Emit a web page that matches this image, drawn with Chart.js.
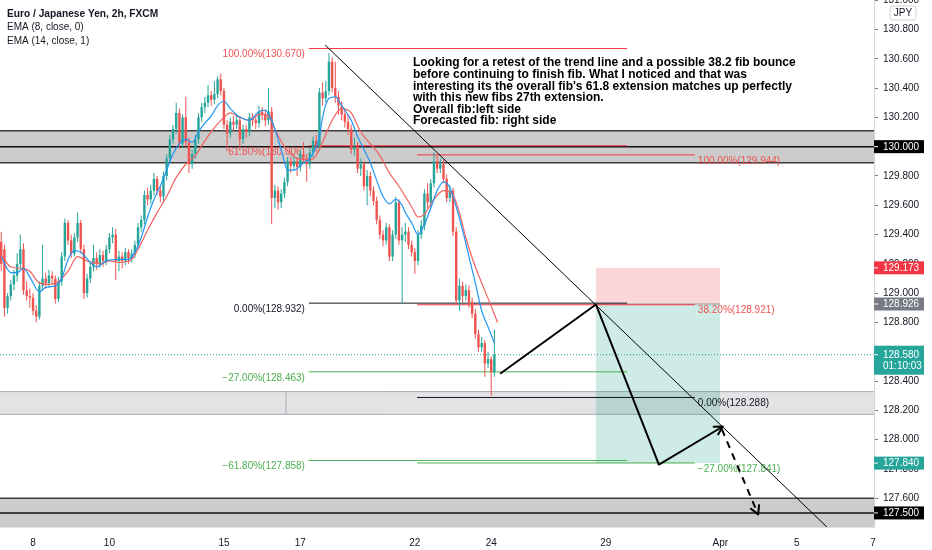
<!DOCTYPE html>
<html>
<head>
<meta charset="utf-8">
<script src="https://cdn.jsdelivr.net/npm/chart.js@4.4.0/dist/chart.umd.min.js"></script>
<style>
  html, body { margin: 0; padding: 0; background: #fff; }
  #wrap { width: 932px; height: 550px; }
</style>
</head>
<body>
<div id="wrap"><canvas id="myChart" width="932" height="550"></canvas></div>
<script>
// EUR/JPY 2h candles, one entry per bar (bar 0 = Fri 5 Mar 04:00)
const opens = [
  129.35,129.30,128.90,128.98,129.06,129.12,129.20,129.30,129.02,128.98,
  128.97,128.88,128.84,129.05,129.10,129.07,129.12,129.10,128.96,129.08,
  129.25,129.48,129.36,129.27,129.38,129.48,129.30,129.00,129.10,129.18,
  129.24,129.20,129.26,129.22,129.30,129.38,129.40,129.22,129.25,129.22,
  129.28,129.24,129.27,129.33,129.45,129.50,129.67,129.64,129.70,129.78,
  129.70,129.66,129.80,129.92,130.05,130.12,130.23,130.02,130.20,130.03,
  129.88,129.95,130.05,130.20,130.27,130.30,130.35,130.32,130.36,130.46,
  130.38,130.15,130.09,130.17,130.15,130.18,130.05,130.12,130.10,130.20,
  130.18,130.16,130.24,130.22,130.18,130.24,129.65,129.70,129.62,129.68,
  129.76,129.90,129.87,129.90,129.86,129.95,129.92,129.88,129.96,130.04,
  130.00,130.37,130.33,130.38,130.58,130.40,130.34,130.28,130.22,130.17,
  130.12,129.98,130.00,129.85,129.88,129.73,129.80,129.70,129.63,129.50,
  129.40,129.36,129.45,129.25,129.40,129.62,129.36,129.40,129.42,129.33,
  129.28,129.22,129.40,129.46,129.68,129.62,129.75,129.90,129.85,129.88,
  129.78,129.65,129.70,129.42,128.95,129.05,128.98,129.02,128.94,128.86,
  128.72,128.63,128.66,128.52,128.55,128.46
];
const highs = [
  129.42,129.33,129.00,129.09,129.16,129.27,129.40,129.34,129.08,129.03,
  129.00,128.92,129.08,129.33,129.14,129.16,129.15,129.12,129.11,129.28,
  129.51,129.50,129.40,129.41,129.55,129.50,129.33,129.13,129.21,129.33,
  129.28,129.30,129.29,129.33,129.41,129.45,129.44,129.29,129.28,129.31,
  129.30,129.30,129.36,129.48,129.53,129.70,129.72,129.74,129.82,129.80,
  129.73,129.83,129.95,130.08,130.15,130.30,130.26,130.22,130.34,130.06,
  129.98,130.08,130.23,130.30,130.34,130.42,130.38,130.45,130.48,130.50,
  130.40,130.18,130.20,130.21,130.22,130.21,130.15,130.15,130.23,130.23,
  130.21,130.28,130.27,130.25,130.40,130.27,129.74,129.73,129.71,129.79,
  129.93,129.93,129.94,129.93,129.98,130.03,129.95,129.99,130.07,130.08,
  130.40,130.44,130.45,130.64,130.61,130.58,130.38,130.31,130.26,130.22,
  130.15,130.06,130.03,129.92,129.90,129.84,129.83,129.73,129.66,129.53,
  129.43,129.48,129.47,129.43,129.66,129.64,129.45,129.48,129.45,129.36,
  129.31,129.43,129.50,129.71,129.75,129.78,129.96,129.94,129.92,129.91,
  129.81,129.74,129.72,129.45,129.10,129.08,129.06,129.05,128.97,128.89,
  128.75,128.70,128.68,128.60,128.57,128.75
];
const lows = [
  129.15,128.84,128.86,128.95,129.02,129.08,129.17,128.99,128.95,128.90,
  128.85,128.80,128.82,129.02,129.03,129.04,129.06,128.93,128.94,129.05,
  129.22,129.33,129.24,129.25,129.35,129.27,128.96,128.97,129.07,129.15,
  129.16,129.17,129.18,129.19,129.27,129.34,129.09,129.15,129.17,129.19,
  129.20,129.21,129.24,129.30,129.42,129.47,129.60,129.61,129.67,129.67,
  129.62,129.63,129.77,129.89,130.02,130.09,129.99,129.99,130.00,129.82,
  129.85,129.92,130.02,130.17,130.23,130.27,130.28,130.29,130.33,130.35,
  130.12,129.97,130.06,130.11,130.12,129.97,130.02,130.06,130.07,130.14,
  130.12,130.13,130.18,130.14,130.15,129.47,129.58,129.57,129.58,129.65,
  129.73,129.82,129.84,129.80,129.83,129.89,129.76,129.85,129.93,129.96,
  129.97,130.28,130.30,130.35,130.37,130.30,130.22,130.18,130.13,130.08,
  129.95,129.94,129.82,129.80,129.70,129.60,129.66,129.60,129.47,129.37,
  129.32,129.33,129.22,129.22,129.37,129.33,128.93,129.35,129.30,129.25,
  129.13,129.19,129.37,129.43,129.58,129.59,129.72,129.82,129.82,129.75,
  129.62,129.62,129.39,128.92,128.88,128.94,128.95,128.90,128.83,128.69,
  128.60,128.60,128.43,128.49,128.30,128.43
];
const closes = [
  129.20,128.90,128.98,129.06,129.12,129.20,129.30,129.02,128.98,128.97,
  128.88,128.84,129.05,129.10,129.07,129.12,129.10,128.96,129.08,129.25,
  129.48,129.36,129.27,129.38,129.48,129.30,129.00,129.10,129.18,129.24,
  129.20,129.26,129.22,129.30,129.38,129.40,129.22,129.25,129.22,129.28,
  129.24,129.27,129.33,129.45,129.50,129.67,129.64,129.70,129.78,129.70,
  129.66,129.80,129.92,130.05,130.12,130.23,130.02,130.20,130.03,129.88,
  129.95,130.05,130.20,130.27,130.30,130.35,130.32,130.36,130.46,130.38,
  130.15,130.09,130.17,130.15,130.18,130.05,130.12,130.10,130.20,130.18,
  130.16,130.24,130.22,130.18,130.24,129.65,129.70,129.62,129.68,129.76,
  129.90,129.87,129.90,129.86,129.95,129.92,129.88,129.96,130.04,130.00,
  130.37,130.33,130.38,130.58,130.40,130.34,130.28,130.22,130.17,130.12,
  129.98,130.00,129.85,129.88,129.73,129.80,129.70,129.63,129.50,129.40,
  129.36,129.45,129.25,129.40,129.62,129.36,129.40,129.42,129.33,129.28,
  129.22,129.40,129.46,129.68,129.62,129.75,129.90,129.85,129.88,129.78,
  129.65,129.70,129.42,128.95,129.05,128.98,129.02,128.94,128.86,128.72,
  128.63,128.66,128.52,128.55,128.46,128.58
];

// EMA lines (bar index, price)
const emaFastBars = [0,3,5,7,9,12,14,17,19,21,23,25,28,30,33,37,40,42,44,46,48,50,52,54,56,58,60,62,64,66,68,70,72,75,78,81,83,85,88,90,92,95,97,100,101,103,105,107,110,112,114,116,118,120,122,124,126,127,129,131,133,135,137,139,141,143,145,147,149,151,153,155];
const emaFastVals = [129.25,129.14,129.14,129.17,129.11,129.01,129.04,129.05,129.10,129.23,129.29,129.28,129.21,129.18,129.22,129.23,129.23,129.28,129.38,129.52,129.64,129.73,129.84,129.95,130.02,130.05,130.03,130.10,130.16,130.21,130.28,130.31,130.26,130.20,130.18,130.24,130.25,130.18,129.98,129.84,129.84,129.89,129.92,130.07,130.20,130.33,130.34,130.28,130.18,130.07,129.98,129.89,129.77,129.66,129.61,129.64,129.60,129.55,129.48,129.40,129.47,129.58,129.70,129.76,129.72,129.59,129.43,129.25,129.07,128.88,128.77,128.66];
const emaSlowBars = [0,3,6,9,12,15,18,21,24,27,31,34,37,41,43,46,49,52,55,58,61,64,67,70,72,75,78,81,84,86,89,93,97,99,101,104,107,110,113,116,119,122,125,127,129,131,133,136,139,142,144,146,149,151,154,156];
const emaSlowVals = [129.26,129.18,129.17,129.15,129.07,129.06,129.08,129.15,129.25,129.22,129.20,129.22,129.21,129.23,129.30,129.43,129.55,129.66,129.79,129.88,129.94,130.04,130.13,130.20,130.23,130.20,130.18,130.22,130.21,130.12,130.00,129.92,129.91,129.94,130.03,130.18,130.26,130.23,130.10,130.02,129.94,129.82,129.73,129.66,129.59,129.52,129.54,129.64,129.70,129.67,129.55,129.38,129.18,129.07,128.91,128.80];

// axis ticks
const xTickBars = [10, 34, 70, 94, 130, 154, 190, 226, 250, 274];
const xTickLabels = ['8', '10', '15', '17', '22', '24', '29', 'Apr', '5', '7'];
const priceTicks = [127.6,127.8,128.0,128.2,128.4,128.6,128.8,129.0,129.2,129.4,129.6,129.8,130.0,130.2,130.4,130.6,130.8,131.0];

// drawings
const zoneTops = [130.109, 128.328, 127.600];
const zoneBottoms = [129.891, 128.173, 127.300];
const levelLines = [130.000, 127.500];
const leftFibLabels = ['100.00%(130.670)', '61.80%(130.006)', '0.00%(128.932)', '\u221227.00%(128.463)', '\u221261.80%(127.858)'];
const leftFibPrices = [130.670, 130.006, 128.932, 128.463, 127.858];
const leftFibBars = [96.7, 196.7];
const rightFibLabels = ['100.00%(129.944)', '38.20%(128.921)', '0.00%(128.288)', '\u221227.00%(127.841)'];
const rightFibPrices = [129.944, 128.921, 128.288, 127.841];
const rightFibBars = [130.7, 218.0];
const positionBars = [186.9, 225.9];
const positionPrices = [129.173, 128.926, 127.840];
const trendBars = [101.8, 259.5];
const trendPrices = [130.694, 127.404];
const pathBars = [156.8, 186.9, 206.7, 226.8];
const pathPrices = [128.45, 128.923, 127.83, 128.09];
const dashBars = [226.5, 237.9];
const dashPrices = [128.07, 127.49];
const noteLines = [
  'Looking for a retest of the trend line and a possible 38.2 fib bounce',
  'before continuing to finish fib. What I noticed and that was',
  "interesting its the overall fib's 61.8 extension matches up perfectly",
  'with this new fibs 27th extension.',
  'Overall fib:left side',
  'Forecasted fib: right side'
];
const noteBar = 129.4;
const notePrice = 130.571;
const badgePrices = [130.000, 129.173, 128.926, 128.580, 127.840, 127.500];
const countdown = '01:10:03';

const upColor = '#26a69a';
const downColor = '#ef5350';
const fibRed = '#f23645';
const fibGreen = '#4caf50';
const ink = '#131722';
const FONT = '"Liberation Sans", Arial, sans-serif';

Chart.defaults.font.family = FONT;
Chart.defaults.font.size = 10;
Chart.defaults.color = ink;

function arrowHead(ctx, x0, y0, x1, y1, len) {
  const ang = Math.atan2(y1 - y0, x1 - x0);
  ctx.beginPath();
  ctx.moveTo(x1 - len * Math.cos(ang - 0.5), y1 - len * Math.sin(ang - 0.5));
  ctx.lineTo(x1, y1);
  ctx.lineTo(x1 - len * Math.cos(ang + 0.5), y1 - len * Math.sin(ang + 0.5));
  ctx.stroke();
}

const drawings = {
  id: 'drawings',
  beforeDatasetsDraw(chart) {
    const { ctx, chartArea: a, scales: { x, y } } = chart;
    const X = v => x.getPixelForValue(v);
    const Y = v => y.getPixelForValue(v);
    ctx.save();
    ctx.beginPath();
    ctx.rect(a.left, a.top, a.right - a.left, a.bottom - a.top);
    ctx.clip();

    // grey zones
    const zoneFill = ['#cccccc', '#e3e3e5', '#cccccc'];
    const zoneEdge = ['#3c3c3c', '#a9abb2', '#3c3c3c'];
    zoneTops.forEach((top, i) => {
      const y1 = Y(top), y2 = Y(zoneBottoms[i]);
      ctx.fillStyle = zoneFill[i];
      ctx.fillRect(a.left, y1, a.right - a.left, y2 - y1);
      ctx.strokeStyle = zoneEdge[i];
      ctx.lineWidth = i == 1 ? 1 : 1.5;
      ctx.beginPath();
      ctx.moveTo(a.left, y1); ctx.lineTo(a.right, y1);
      ctx.moveTo(a.left, y2); ctx.lineTo(a.right, y2);
      ctx.stroke();
    });
    ctx.strokeStyle = '#a9abb2';
    ctx.lineWidth = 1;
    ctx.beginPath();
    ctx.moveTo(X(89.5), Y(zoneTops[1]));
    ctx.lineTo(X(89.5), Y(zoneBottoms[1]));
    ctx.stroke();
    ctx.strokeStyle = '#111';
    ctx.lineWidth = 1.5;
    levelLines.forEach(p => {
      ctx.beginPath();
      ctx.moveTo(a.left, Y(p)); ctx.lineTo(a.right, Y(p));
      ctx.stroke();
    });

    // short position tool
    const px1 = X(positionBars[0]), px2 = X(positionBars[1]);
    ctx.fillStyle = 'rgba(242,54,69,0.2)';
    ctx.fillRect(px1, Y(positionPrices[0]), px2 - px1, Y(positionPrices[1]) - Y(positionPrices[0]));
    ctx.fillStyle = 'rgba(8,153,129,0.2)';
    ctx.fillRect(px1, Y(positionPrices[1]), px2 - px1, Y(positionPrices[2]) - Y(positionPrices[1]));
    ctx.strokeStyle = '#9598a1';
    ctx.lineWidth = 1;
    ctx.beginPath();
    ctx.moveTo(px1, Y(positionPrices[1])); ctx.lineTo(px2, Y(positionPrices[1]));
    ctx.stroke();

    // current price dotted line
    ctx.strokeStyle = upColor;
    ctx.setLineDash([1, 2]);
    ctx.beginPath();
    ctx.moveTo(a.left, Y(closes[closes.length - 1]));
    ctx.lineTo(a.right, Y(closes[closes.length - 1]));
    ctx.stroke();
    ctx.setLineDash([]);

    // fib levels
    ctx.font = '10px ' + FONT;
    ctx.textBaseline = 'top';
    const leftColors = [fibRed, fibRed, ink, fibGreen, fibGreen];
    leftFibPrices.forEach((p, i) => {
      const yy = Y(p);
      ctx.strokeStyle = leftColors[i];
      ctx.beginPath();
      ctx.moveTo(X(leftFibBars[0]), yy); ctx.lineTo(X(leftFibBars[1]), yy);
      ctx.stroke();
      ctx.fillStyle = leftColors[i] == fibRed ? '#ef5350' : leftColors[i];
      ctx.textAlign = 'right';
      ctx.fillText(leftFibLabels[i], X(leftFibBars[0]) - 4, yy + 1);
    });
    const rightColors = [fibRed, fibRed, ink, fibGreen];
    rightFibPrices.forEach((p, i) => {
      const yy = Y(p);
      ctx.strokeStyle = rightColors[i];
      ctx.beginPath();
      ctx.moveTo(X(rightFibBars[0]), yy); ctx.lineTo(X(rightFibBars[1]), yy);
      ctx.stroke();
      ctx.fillStyle = rightColors[i] == fibRed ? '#ef5350' : rightColors[i];
      ctx.textAlign = 'left';
      ctx.fillText(rightFibLabels[i], X(rightFibBars[1]) + 3, yy + 1);
    });
    ctx.restore();
  },
  afterDatasetsDraw(chart) {
    const { ctx, chartArea: a, scales: { x, y } } = chart;
    const X = v => x.getPixelForValue(v);
    const Y = v => y.getPixelForValue(v);
    ctx.save();
    ctx.beginPath();
    ctx.rect(a.left, a.top, a.right - a.left, a.bottom - a.top);
    ctx.clip();

    // trend line
    ctx.strokeStyle = '#000';
    ctx.lineWidth = 1;
    ctx.beginPath();
    ctx.moveTo(X(trendBars[0]), Y(trendPrices[0]));
    ctx.lineTo(X(trendBars[1]), Y(trendPrices[1]));
    ctx.stroke();

    // forecast path
    ctx.lineWidth = 2;
    ctx.lineJoin = 'round';
    ctx.beginPath();
    pathBars.forEach((b, i) => {
      if (i == 0) ctx.moveTo(X(b), Y(pathPrices[i]));
      else ctx.lineTo(X(b), Y(pathPrices[i]));
    });
    ctx.stroke();
    const n = pathBars.length;
    arrowHead(ctx, X(pathBars[n - 2]), Y(pathPrices[n - 2]), X(pathBars[n - 1]), Y(pathPrices[n - 1]), 10);

    ctx.setLineDash([7, 6]);
    ctx.beginPath();
    ctx.moveTo(X(dashBars[0]), Y(dashPrices[0]));
    ctx.lineTo(X(dashBars[1]), Y(dashPrices[1]));
    ctx.stroke();
    ctx.setLineDash([]);
    arrowHead(ctx, X(dashBars[0]), Y(dashPrices[0]), X(dashBars[1]), Y(dashPrices[1]), 10);

    // note
    ctx.fillStyle = '#000';
    ctx.font = 'bold 12px ' + FONT;
    ctx.textAlign = 'left';
    ctx.textBaseline = 'middle';
    noteLines.forEach((t, i) => {
      ctx.fillText(t, X(noteBar), Y(notePrice) + i * 11.6);
    });
    ctx.restore();

    // legend
    ctx.save();
    ctx.fillStyle = ink;
    ctx.textAlign = 'left';
    ctx.textBaseline = 'middle';
    ctx.font = 'bold 10.2px ' + FONT;
    ctx.fillText('Euro / Japanese Yen, 2h, FXCM', 7, 14);
    ctx.font = '10px ' + FONT;
    ctx.fillText('EMA (8, close, 0)', 7, 27.5);
    ctx.fillText('EMA (14, close, 1)', 7, 41.5);
    ctx.restore();
  },
  afterDraw(chart) {
    const { ctx, chartArea: a, scales: { y } } = chart;
    const Y = v => y.getPixelForValue(v);
    const colors = ['#000000', '#f23645', '#787b86', upColor, upColor, '#000000'];
    ctx.save();
    ctx.font = '10px ' + FONT;
    ctx.textAlign = 'left';
    ctx.textBaseline = 'middle';
    badgePrices.forEach((p, i) => {
      const yy = Y(p);
      ctx.fillStyle = colors[i];
      if (i == 3) ctx.fillRect(a.right, yy - 9, 50, 29);
      else ctx.fillRect(a.right, yy - 6.5, 50, 13);
      ctx.strokeStyle = '#fff';
      ctx.lineWidth = 1;
      ctx.beginPath();
      ctx.moveTo(a.right, yy); ctx.lineTo(a.right + 4, yy);
      ctx.stroke();
      ctx.fillStyle = '#fff';
      ctx.fillText(p.toFixed(3), a.right + 9, yy + 0.5);
      if (i == 3) ctx.fillText(countdown, a.right + 9, yy + 12);
    });
    // currency box
    ctx.strokeStyle = '#d1d4dc';
    ctx.fillStyle = '#fff';
    ctx.beginPath();
    ctx.roundRect(890, 6, 26, 14, 3);
    ctx.fill();
    ctx.stroke();
    ctx.fillStyle = ink;
    ctx.textAlign = 'center';
    ctx.fillText('JPY', 903, 13.5);
    ctx.restore();
  }
};

const config = {
  type: 'bar',
  data: {
    datasets: [
      {
        type: 'line',
        label: 'EMA 8',
        data: emaFastBars.map((b, i) => ({ x: b, y: emaFastVals[i] })),
        borderColor: '#2196f3',
        borderWidth: 1.2,
        pointRadius: 0,
        cubicInterpolationMode: 'monotone',
        order: 0
      },
      {
        type: 'line',
        label: 'EMA 14',
        data: emaSlowBars.map((b, i) => ({ x: b, y: emaSlowVals[i] })),
        borderColor: '#f0625f',
        borderWidth: 1.2,
        pointRadius: 0,
        cubicInterpolationMode: 'monotone',
        order: 0
      },
      {
        label: 'bodies',
        data: closes.map((c, i) => {
          let lo = Math.min(opens[i], c), hi = Math.max(opens[i], c);
          if (hi - lo < 0.004) { lo -= 0.002; hi += 0.002; }
          return { x: i, y: [lo, hi] };
        }),
        backgroundColor: closes.map((c, i) => c >= opens[i] ? upColor : downColor),
        barThickness: 2.4,
        inflateAmount: 0,
        borderWidth: 0,
        grouped: false,
        order: 1
      },
      {
        label: 'wicks',
        data: closes.map((c, i) => ({ x: i, y: [lows[i], highs[i]] })),
        backgroundColor: closes.map((c, i) => c >= opens[i] ? upColor : downColor),
        barThickness: 1,
        inflateAmount: 0,
        borderWidth: 0,
        grouped: false,
        order: 2
      }
    ]
  },
  options: {
    responsive: false,
    animation: false,
    events: [],
    layout: { padding: 0 },
    plugins: { legend: { display: false }, tooltip: { enabled: false } },
    scales: {
      x: {
        type: 'linear',
        min: -0.38,
        max: 274.3,
        offset: false,
        grid: { display: false },
        border: { display: true, color: '#e0e3eb' },
        afterBuildTicks: s => { s.ticks = xTickBars.map(v => ({ value: v })); },
        afterFit: s => { s.height = 23; s.paddingLeft = 0; s.paddingRight = 0; },
        ticks: {
          autoSkip: false,
          maxRotation: 0,
          padding: 2,
          color: ink,
          font: { size: 10 },
          callback: v => xTickLabels[xTickBars.indexOf(v)]
        }
      },
      y: {
        type: 'linear',
        position: 'right',
        min: 127.404,
        max: 131.001,
        beginAtZero: false,
        grid: { display: true, drawOnChartArea: false, drawTicks: true, tickLength: 4, color: '#787b86' },
        border: { display: true, color: '#d1d4dc' },
        afterBuildTicks: s => { s.ticks = priceTicks.map(v => ({ value: v })); },
        afterFit: s => { s.width = 58; s.paddingTop = 0; s.paddingBottom = 0; },
        ticks: {
          padding: 5,
          color: ink,
          font: { size: 10 },
          callback: v => v.toFixed(3)
        }
      }
    }
  },
  plugins: [drawings]
};

new Chart(document.getElementById('myChart'), config);
</script>
</body>
</html>
